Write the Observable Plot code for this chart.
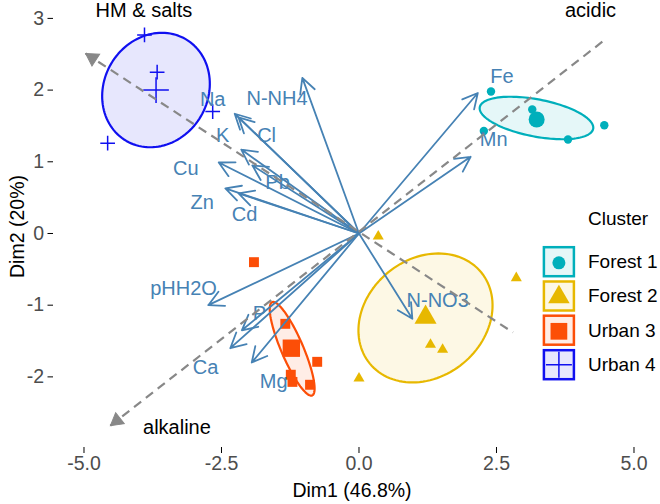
<!DOCTYPE html>
<html><head><meta charset="utf-8">
<script src="https://cdn.jsdelivr.net/npm/d3@7"></script>
<script src="https://cdn.jsdelivr.net/npm/@observablehq/plot@0.6"></script>
<style>
body{margin:0;background:#fff;font-family:"Liberation Sans",Arial,sans-serif}
#wrap{position:relative;width:660px;height:504px}
#legend{position:absolute;left:530px;top:190px}
g[aria-label="x-axis tick label"], g[aria-label="y-axis tick label"]{fill:#4d4d4d}
</style></head><body><div id="wrap"></div>
<script>
// Clusters
const clusters = ["Forest 1", "Forest 2", "Urban 3", "Urban 4"];
const clusterColors = ["#00AFBB", "#E7B800", "#FC4E07", "#1010F0"];
const clusterSymbols = ["circle", "triangle", "square", "plus"];

// Individuals (Dim1, Dim2)
const indCluster = ["Forest 1","Forest 1","Forest 1","Forest 1","Forest 1",
  "Forest 2","Forest 2","Forest 2","Forest 2","Forest 2",
  "Urban 3","Urban 3","Urban 3","Urban 3","Urban 3","Urban 3",
  "Urban 4","Urban 4","Urban 4","Urban 4"];
const indX = [2.40, 3.15, 2.27, 3.80, 4.46,
  0.35, 2.86, 1.30, 1.52, 0.00,
  -1.91, -1.34, -0.76, -1.24, -1.21, -0.89,
  -3.90, -3.67, -2.66, -4.57];
const indY = [1.98, 1.73, 1.43, 1.31, 1.51,
  -0.04, -0.62, -1.55, -1.62, -2.02,
  -0.40, -1.26, -1.79, -1.97, -2.07, -2.11,
  2.77, 2.25, 1.70, 1.26];

// Cluster centroids
const cenX = [3.23, 1.21, -1.23, -3.69];
const cenY = [1.59, -1.17, -1.60, 2.00];

// Confidence ellipses: centre and two semi-axis vectors (data units)
const ellCx = [3.227, 1.209, -1.215, -3.691];
const ellCy = [1.611, -1.178, -1.608, 2.001];
const ellAx = [1.031, 1.012, 0.364, 0.539];
const ellAy = [-0.151, 0.637, -0.651, 0.710];
const ellBx = [-0.063, 0.680, 0.184, 0.817];
const ellBy = [-0.255, -0.635, 0.060, -0.365];

// Variables (arrow tips) and label positions
const varNames = ["Fe","Mn","N-NH4","Na","Cl","K","Pb","Cu","Zn","Cd","pHH2O","P","Ca","Mg","N-NO3"];
const varX = [2.16, 2.03, -1.03, -2.26, -2.19, -2.14, -1.94, -2.55, -2.43, -2.19, -2.74, -2.13, -2.34, -1.95, 0.97];
const varY = [1.96, 1.07, 2.17, 1.67, 1.62, 1.17, 0.95, 0.99, 0.63, 0.56, -1.00, -1.35, -1.60, -1.80, -1.19];
const labX = [2.60, 2.45, -1.49, -2.66, -1.68, -2.48, -1.48, -3.15, -2.85, -2.08, -3.19, -1.81, -2.79, -1.55, 1.43];
const labY = [2.19, 1.31, 1.88, 1.87, 1.37, 1.37, 0.71, 0.91, 0.43, 0.26, -0.77, -1.12, -1.87, -2.06, -0.93];

// Supplementary gradient axes (arrow tip -> other end)
const gradTipX = [-4.97, -4.52];
const gradTipY = [2.51, -2.68];
const gradEndX = [2.80, 4.50];
const gradEndY = [-1.38, 2.72];

// Annotations
const annText = ["HM & salts", "acidic", "alkaline"];
const annX = [-3.91, 4.21, -3.31];
const annY = [3.11, 3.11, -2.71];

// Axis ticks
const xTicks = [-5, -2.5, 0, 2.5, 5];
const yTicks = [-2, -1, 0, 1, 2, 3];

const W = 660, H = 504, mL = 53, mR = 10, mT = 5, mB = 57;
const xDom = [-5.5545, 5.3], yDom = [-2.985, 3.18];
const sx = d3.scaleLinear(xDom, [mL, W - mR]);
const sy = d3.scaleLinear(yDom, [H - mB, mT]);

const inds = indX.map((x, i) => ({x, y: indY[i], c: indCluster[i]}));
const vars = varNames.map((n, i) => ({n, x: varX[i], y: varY[i], lx: labX[i], ly: labY[i]}));
const grads = gradTipX.map((x, i) => ({tx: x, ty: gradTipY[i], ex: gradEndX[i], ey: gradEndY[i]}));
const anns = annText.map((t, i) => ({t, x: annX[i], y: annY[i]}));

// arrowhead triangles for the gradient axes, oriented in screen space
const headR = 5.2;
const headBack = 2 * Math.sqrt(Math.PI * headR * headR / (3 * Math.sqrt(3)));
const heads = grads.map(d => {
  const px = sx(d.tx), py = sy(d.ty), qx = sx(d.ex), qy = sy(d.ey);
  const L = Math.hypot(px - qx, py - qy), ux = (px - qx) / L, uy = (py - qy) / L;
  return {x: sx.invert(px - ux * headBack), y: sy.invert(py - uy * headBack),
          rot: Math.atan2(ux, -uy) * 180 / Math.PI};
});

function ellipse(i) {
  return d3.range(0, 121).map(k => {
    const t = 2 * Math.PI * k / 120;
    return {x: ellCx[i] + ellAx[i] * Math.cos(t) + ellBx[i] * Math.sin(t),
            y: ellCy[i] + ellAy[i] * Math.cos(t) + ellBy[i] * Math.sin(t)};
  });
}
const smallR = [4.2, 4.1, 5.6, 4.8];
const bigR = [8, 8.2, 9.8, 8.3];

const marks = [];
clusters.forEach((c, i) => {
  marks.push(Plot.line(ellipse(i), {x: "x", y: "y", stroke: clusterColors[i], strokeWidth: 2.2,
    fill: clusterColors[i], fillOpacity: 0.1}));
});
clusters.forEach((c, i) => {
  const pts = inds.filter(d => d.c === c);
  const plus = clusterSymbols[i] === "plus";
  const style = plus ? {fill: "none", stroke: clusterColors[i], strokeWidth: 1.5} : {fill: clusterColors[i], stroke: "none"};
  marks.push(Plot.dot(pts, {x: "x", y: "y", symbol: clusterSymbols[i], r: smallR[i], ...style}));
  marks.push(Plot.dot([{x: cenX[i], y: cenY[i]}], {x: "x", y: "y", symbol: clusterSymbols[i], r: bigR[i], ...style}));
});
marks.push(Plot.arrow(vars, {x1: 0, y1: 0, x2: "x", y2: "y", stroke: "#4682B4", strokeWidth: 1.8, headLength: 14, headAngle: 55}));
marks.push(Plot.text(vars, {x: "lx", y: "ly", text: "n", fill: "#4682B4", fontSize: 20}));
marks.push(Plot.link(grads, {x1: "tx", y1: "ty", x2: "ex", y2: "ey", stroke: "#888", strokeWidth: 2.2, strokeDasharray: "9,6"}));
marks.push(Plot.dot(heads, {x: "x", y: "y", rotate: "rot", symbol: "triangle", r: headR, fill: "#888", stroke: "#888", strokeWidth: 1}));
marks.push(Plot.text(anns, {x: "x", y: "y", text: "t", fill: "black", fontSize: 20}));
marks.push(Plot.axisX({ticks: xTicks, tickFormat: d => d.toFixed(1), tickSize: 6, tickPadding: 3, fontSize: 19.5,
  label: "Dim1 (46.8%)", labelAnchor: "center", labelArrow: "none", labelOffset: 49}));
marks.push(Plot.axisY({ticks: yTicks, tickFormat: d => String(d), tickSize: 5.5, tickPadding: 4, fontSize: 19.5,
  label: "Dim2 (20%)", labelAnchor: "center", labelArrow: "none", labelOffset: 43}));

const chart = Plot.plot({
  width: W, height: H,
  marginLeft: mL, marginRight: mR, marginTop: mT, marginBottom: mB,
  x: {domain: xDom},
  y: {domain: yDom},
  style: {fontFamily: "Liberation Sans, Arial, sans-serif", fontSize: "19.5px", color: "black", background: "white"},
  marks
});
const wrap = document.getElementById("wrap");
wrap.appendChild(chart);

// Legend overlay
const leg = d3.select(wrap).append("svg").attr("id", "legend").attr("width", 130).attr("height", 200)
  .style("font-family", "Liberation Sans, Arial, sans-serif");
leg.append("text").attr("x", 58).attr("y", 28).attr("dy", "0.35em").attr("font-size", 19).text("Cluster");
const keyY = [56, 90.3, 124.5, 159];
const legSym = {circle: d3.symbolCircle, triangle: d3.symbolTriangle, square: d3.symbolSquare, plus: d3.symbolPlus};
const legSize = [133, 200, 280, 222];
clusters.forEach((c, i) => {
  const g = leg.append("g").attr("transform", `translate(12.7,${keyY[i]})`);
  g.append("rect").attr("x", 1.2).attr("y", 1.2).attr("width", 30).attr("height", 29)
    .attr("fill", clusterColors[i]).attr("fill-opacity", 0.1)
    .attr("stroke", clusterColors[i]).attr("stroke-width", 2.5);
  const plus = clusterSymbols[i] === "plus";
  g.append("path").attr("transform", `translate(16.2,${plus ? 15.7 : 16.8})`)
    .attr("d", d3.symbol(legSym[clusterSymbols[i]], legSize[i])())
    .attr("fill", plus ? "none" : clusterColors[i])
    .attr("stroke", plus ? clusterColors[i] : "none").attr("stroke-width", 1.5);
  leg.append("text").attr("x", 58).attr("y", keyY[i] + 15.5).attr("dy", "0.35em").attr("font-size", 19).text(c);
});
</script></body></html>
